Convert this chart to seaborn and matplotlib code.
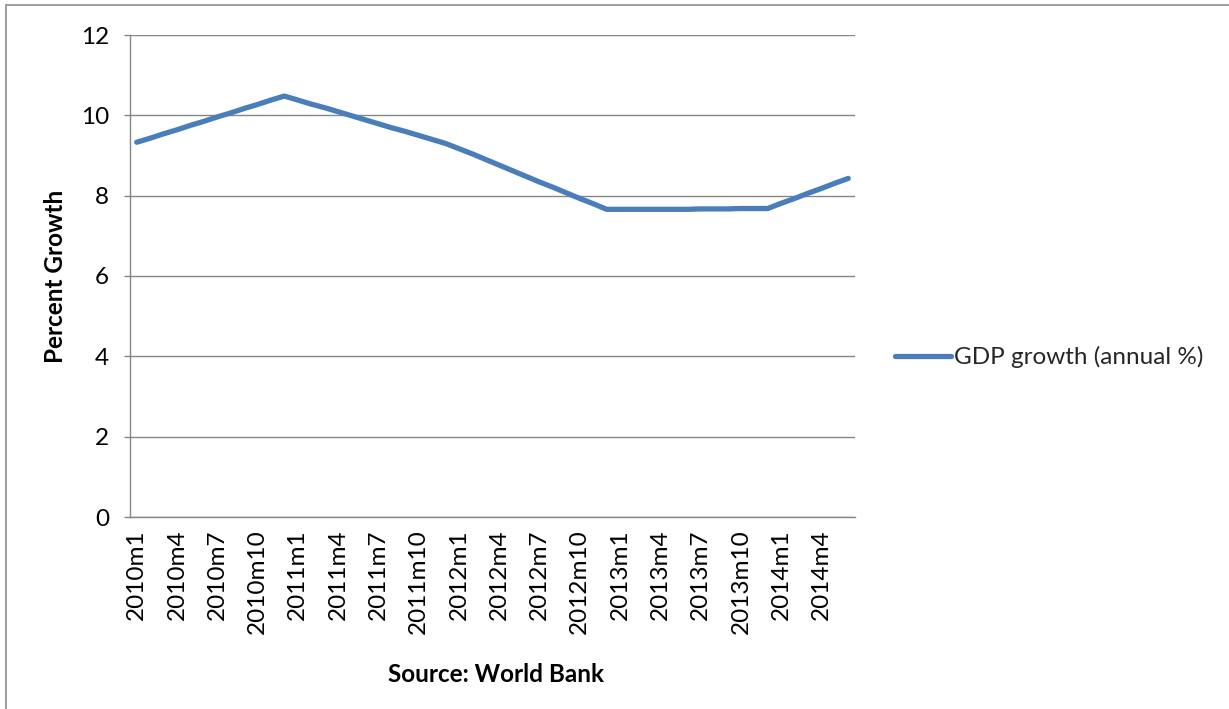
import matplotlib
matplotlib.use("Agg")
import matplotlib.pyplot as plt
import seaborn as sns
import pandas as pd
from matplotlib.patches import Rectangle

# ---- data ----
years = [2010, 2011, 2012, 2013, 2014]
months_per_year = [12, 12, 12, 12, 6]
gdp_growth = [
    9.33, 9.43, 9.54, 9.64, 9.75, 9.85, 9.96, 10.06, 10.17, 10.27, 10.38, 10.48,
    10.38, 10.28, 10.19, 10.09, 9.99, 9.89, 9.79, 9.69, 9.60, 9.50, 9.40, 9.30,
    9.17, 9.04, 8.90, 8.76, 8.62, 8.48, 8.34, 8.21, 8.07, 7.93, 7.80, 7.66,
    7.66, 7.66, 7.66, 7.66, 7.66, 7.66, 7.67, 7.67, 7.67, 7.68, 7.68, 7.68,
    7.81, 7.93, 8.06, 8.18, 8.31, 8.43,
]
periods = [f"{y}m{m}" for y, n in zip(years, months_per_year) for m in range(1, n + 1)]
y_ticks = [0, 2, 4, 6, 8, 10, 12]
series_name = "GDP growth (annual %)"
y_label = "Percent Growth"
source_text = "Source: World Bank"

df = pd.DataFrame({"period": periods, "value": gdp_growth})

sns.set_theme(style="white")
plt.rcParams["font.family"] = ["Lato", "DejaVu Sans"]

FS = 17.5
W, H = 1229, 709
fig = plt.figure(figsize=(W / 100, H / 100), dpi=100)
ax = fig.add_axes([130 / W, 1 - 517 / H, 725 / W, 482 / H])

line_color = "#4A7EBB"
grid_color = "#868686"

sns.lineplot(data=df, x="period", y="value", ax=ax, color=line_color,
             linewidth=3.8, label=series_name, sort=False)

ax.set_xlim(-0.5, len(periods) - 0.5)
ax.set_ylim(0, 12)
ax.set_yticks(y_ticks)
ax.set_yticklabels([str(t) for t in y_ticks])
tick_pos = list(range(0, len(periods), 3))
ax.set_xticks(tick_pos)
ax.set_xticklabels([periods[i] for i in tick_pos], rotation=90)

ax.yaxis.grid(True, color=grid_color, linewidth=1.0)
ax.xaxis.grid(False)
for side in ["top", "right"]:
    ax.spines[side].set_visible(False)
for side in ["left", "bottom"]:
    ax.spines[side].set_color(grid_color)
    ax.spines[side].set_linewidth(1.0)

ax.tick_params(axis="y", which="both", left=True, length=4, width=1.0,
               color=grid_color, pad=11, labelsize=FS, labelcolor="black")
ax.tick_params(axis="x", which="both", bottom=False, length=0, pad=9,
               labelsize=FS, labelcolor="black")

ax.set_xlabel("")
ax.set_ylabel(y_label, fontsize=FS, fontweight="bold", color="black")
ax.yaxis.set_label_coords(-0.087, 0.5)

fig.text(496 / W, 1 - 675 / H, source_text, ha="center", va="center",
         fontsize=FS, fontweight="bold", color="black")

ax.legend(loc="center left", bbox_to_anchor=(895 / W, 1 - 357 / H),
          bbox_transform=fig.transFigure, frameon=False, fontsize=FS,
          handlelength=2.3, handletextpad=0.12, borderpad=0, borderaxespad=0)

# outer chart border (open to the right/bottom, as in the reference crop)
fig.patches.append(Rectangle((6 / W, -0.2), 1.5, 1 - 5 / H + 0.2,
                             transform=fig.transFigure, fill=False,
                             edgecolor="#8c8c8c", linewidth=1.2))

fig.savefig("out.png", dpi=100)
